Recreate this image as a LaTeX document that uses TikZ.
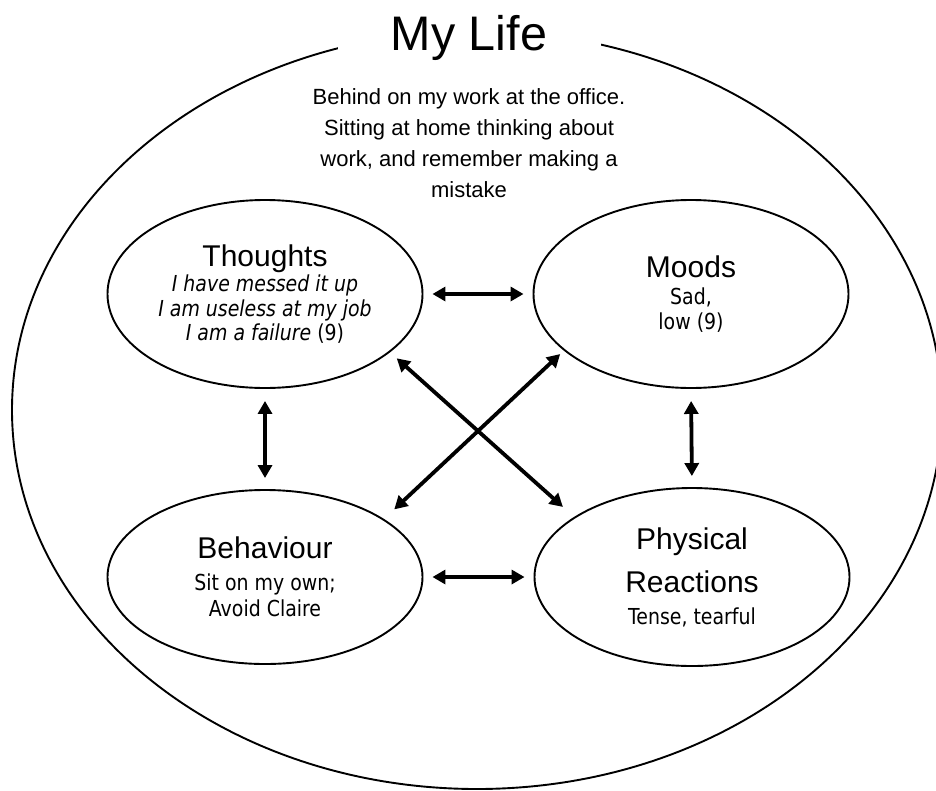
\documentclass[tikz,border=0pt]{standalone}
\usepackage{fontspec}
\setmainfont{Liberation Sans}
\newfontfamily\arl{Liberation Sans}
\newfontfamily\tah[FakeStretch=0.86]{DejaVu Sans}
\usetikzlibrary{shapes.geometric,arrows.meta}
\newcommand\bubtitle{\arl\fontsize{30}{30}\selectfont}
\begin{document}
\begin{tikzpicture}[x=1pt,y=-1pt,
  outline/.style={draw,ellipse,line width=1.9pt,inner sep=0pt},
  bubble/.style={outline,minimum width=315pt,minimum height=186pt,align=center},
  link/.style={{Triangle[length=13pt,width=14pt]}-{Triangle[length=13pt,width=14pt]},line width=3.8pt}]
\useasboundingbox (0,0) rectangle (936,790);
% outer ellipse and title
\node[outline,minimum width=930pt,minimum height=758pt] (life) at (477,410) {};
\node[fill=white,inner sep=0pt,minimum width=263pt,minimum height=62pt,anchor=base,
      font=\arl\fontsize{48.5}{54}\selectfont] (title) at (469,50) {My Life};
\node[align=center,font=\arl\fontsize{22}{31}\selectfont] (intro) at (469,143.5)
  {Behind on my work at the office.\\Sitting at home thinking about\\work, and remember making a\\mistake};
% four bubbles
\node[bubble,minimum height=188pt,font=\tah\fontsize{22}{24.5}\selectfont] (thoughts) at (265,294)
  {{\bubtitle Thoughts}\\[1pt]\textit{I have messed it up}\\\textit{I am useless at my job}\\\textit{I am a failure} (9)};
\node[bubble,minimum height=188pt,font=\tah\fontsize{22}{25}\selectfont] (moods) at (691,294)
  {{\bubtitle Moods}\\[2pt]Sad,\\low (9)};
\node[bubble,minimum height=174pt,font=\tah\fontsize{22}{26}\selectfont] (behav) at (265,577)
  {{\bubtitle Behaviour}\\[6pt]Sit on my own;\\Avoid Claire};
\node[bubble,minimum height=178pt,font=\tah\fontsize{22}{32}\selectfont] (phys) at (692,577)
  {{\bubtitle Physical}\\[11pt]{\bubtitle Reactions}\\Tense, tearful};
% connectors
\draw[link,shorten <=9pt,shorten >=9pt] (thoughts.east) -- (moods.west);
\draw[link,shorten <=9pt,shorten >=9pt] (behav.east) -- (phys.west);
\draw[link,shorten <=12pt,shorten >=11pt] (thoughts.south) -- (behav.north);
\draw[link,shorten <=12pt,shorten >=11pt] (moods.south) -- (phys.north);
\draw[link,shorten <=9pt,shorten >=15pt] (thoughts.335) -- (phys.153);
\draw[link,shorten <=5pt,shorten >=14pt] (moods.204) -- (behav.26);
\end{tikzpicture}
\end{document}
